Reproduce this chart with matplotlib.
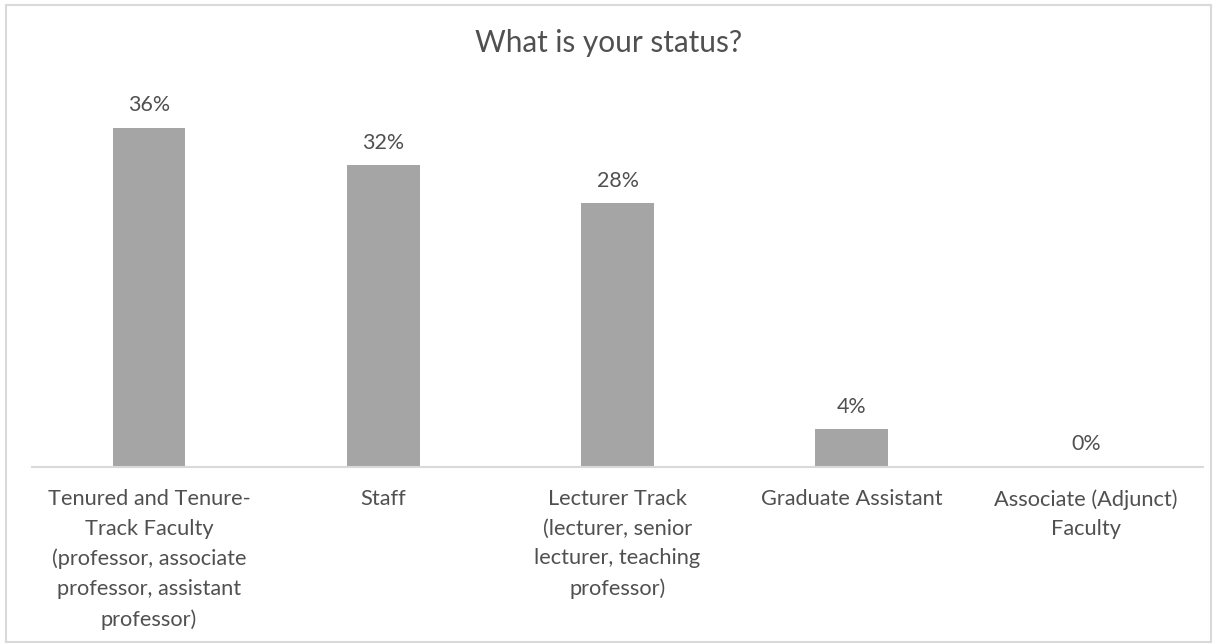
import matplotlib
matplotlib.use("Agg")
import matplotlib.pyplot as plt
from matplotlib.patches import Rectangle

categories = [
    "Tenured and Tenure-\nTrack Faculty\n(professor, associate\nprofessor, assistant\nprofessor)",
    "Staff",
    "Lecturer Track\n(lecturer, senior\nlecturer, teaching\nprofessor)",
    "Graduate Assistant",
    "Associate (Adjunct)\nFaculty",
]
values = [36, 32, 28, 4, 0]
value_labels = ["36%", "32%", "28%", "4%", "0%"]
title = "What is your status?"

W, H = 1217, 644
fig = plt.figure(figsize=(W / 100, H / 100), dpi=100)
plt.rcParams['font.family'] = ['Lato', 'DejaVu Sans']

txt = "#505050"
bar_c = "#A5A5A5"
line_c = "#D9D9D9"

# outer border
fig.patches.append(Rectangle((6 / W, 2 / H), (1211 - 6) / W, (639 - 2) / H,
                             transform=fig.transFigure, fill=False,
                             edgecolor=line_c, linewidth=1.5))

x0, x1 = 32, 1203
ybase, ytop = 467, 90
ax = fig.add_axes([x0 / W, (H - ybase) / H, (x1 - x0) / W, (ybase - ytop) / H])
xs = list(range(len(categories)))
ax.bar(xs, values, width=0.31, color=bar_c, zorder=2)
ax.set_xlim(-0.5, len(categories) - 0.5)
ax.set_ylim(0, 40)
for s in ["top", "right", "left"]:
    ax.spines[s].set_visible(False)
ax.spines["bottom"].set_color(line_c)
ax.spines["bottom"].set_linewidth(1.5)
ax.set_yticks([])
ax.set_xticks(xs)
ax.set_xticklabels(categories, fontsize=15.7, color=txt, linespacing=1.6)
ax.tick_params(axis="x", length=0, pad=16)

for x, v, lab in zip(xs, values, value_labels):
    ax.annotate(lab, (x, v), xytext=(0, 9), textcoords="offset points",
                ha="center", va="bottom", fontsize=15.4, color=txt)

fig.text(0.5, (H - 43) / H, title, ha="center", va="center", fontsize=21.4, color=txt)

fig.savefig("out.png", dpi=100, facecolor="white")
